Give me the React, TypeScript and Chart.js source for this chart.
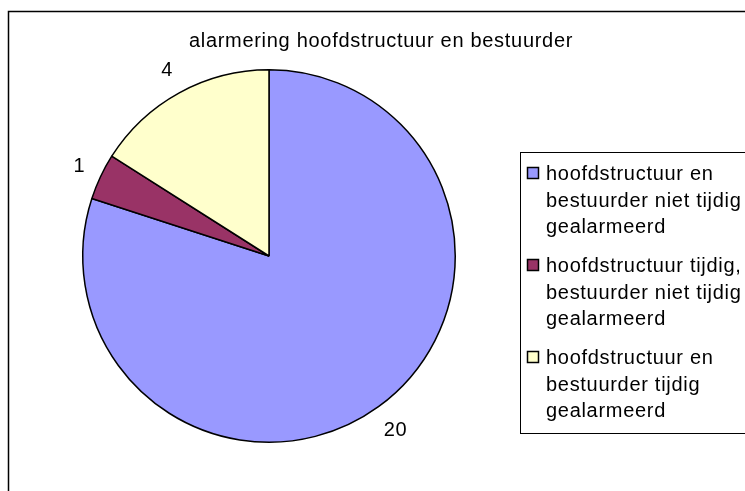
import React, { useEffect, useRef } from "react";
import { Chart, registerables } from "chart.js";

Chart.register(...registerables);

const chartTitle = "alarmering hoofdstructuur en bestuurder";
const categories: string[][] = [
  ["hoofdstructuur en", "bestuurder niet tijdig", "gealarmeerd"],
  ["hoofdstructuur tijdig,", "bestuurder niet tijdig", "gealarmeerd"],
  ["hoofdstructuur en", "bestuurder tijdig", "gealarmeerd"],
];
const values = [20, 1, 4];
const sliceColors = ["#9999FF", "#993366", "#FFFFCC"];

const FONT = "'Liberation Sans', Arial, sans-serif";

const decorPlugin = {
  id: "decor",
  afterDraw(chart: any) {
    const ctx = chart.ctx as CanvasRenderingContext2D;
    ctx.save();
    // outer frame (extends past the window)
    ctx.strokeStyle = "#000";
    ctx.lineWidth = 1.5;
    ctx.strokeRect(8.5, 11.5, 800, 800);

    // title
    ctx.fillStyle = "#000";
    (ctx as any).letterSpacing = "0.7px";
    ctx.font = `20px ${FONT}`;
    ctx.textAlign = "center";
    ctx.textBaseline = "alphabetic";
    ctx.fillText(chartTitle, 381, 47);

    // data labels
    const meta = chart.getDatasetMeta(0);
    ctx.font = `20px ${FONT}`;
    (ctx as any).letterSpacing = "0.5px";
    ctx.textBaseline = "middle";
    meta.data.forEach((arc: any, i: number) => {
      const { x, y, startAngle, endAngle, outerRadius } = arc.getProps(
        ["x", "y", "startAngle", "endAngle", "outerRadius"],
        true
      );
      const mid = (startAngle + endAngle) / 2;
      const dx = Math.cos(mid);
      const dy = Math.sin(mid);
      const txt = String(chart.data.datasets[0].data[i]);
      const w = ctx.measureText(txt).width / 2;
      const h = 10;
      const d = outerRadius + 14 + Math.abs(dx) * w + Math.abs(dy) * h;
      ctx.fillText(txt, x + dx * d, y + dy * d);
    });

    // legend
    ctx.lineWidth = 1;
    ctx.strokeStyle = "#000";
    ctx.strokeRect(520.5, 152.5, 300, 281);
    ctx.font = `20px ${FONT}`;
    (ctx as any).letterSpacing = "0.7px";
    ctx.textAlign = "left";
    ctx.textBaseline = "alphabetic";
    const labels = chart.data.labels as string[][];
    const firstCenter = 173;
    const groupPitch = 92;
    const lineGap = 26.5;
    labels.forEach((lines, i) => {
      const cy = firstCenter + i * groupPitch;
      ctx.fillStyle = sliceColors[i];
      ctx.fillRect(527.5, cy - 5.5, 11, 11);
      ctx.lineWidth = 1.5;
      ctx.strokeRect(527.5, cy - 5.5, 11, 11);
      ctx.fillStyle = "#000";
      lines.forEach((line, j) => {
        ctx.fillText(line, 546, cy + 7 + j * lineGap);
      });
    });
    ctx.restore();
  },
};

export default function App() {
  const ref = useRef<HTMLCanvasElement | null>(null);
  useEffect(() => {
    if (!ref.current) return;
    const chart = new Chart(ref.current, {
      type: "pie",
      data: {
        labels: categories,
        datasets: [
          {
            data: values,
            backgroundColor: sliceColors,
            borderColor: "#000",
            borderWidth: 1.5,
          },
        ],
      },
      options: {
        responsive: false,
        animation: false,
        devicePixelRatio: 1,
        layout: { padding: { left: 82, right: 289, top: 69, bottom: 48 } },
        plugins: {
          legend: { display: false },
          title: { display: false },
          tooltip: { enabled: false },
        },
      },
      plugins: [decorPlugin],
    });
    return () => chart.destroy();
  }, []);
  return (
    <div
      style={{
        position: "absolute",
        left: 0,
        top: 0,
        width: 745,
        height: 491,
        overflow: "hidden",
        background: "#fff",
      }}
    >
      <canvas ref={ref} width={745} height={491} style={{ display: "block" }} />
    </div>
  );
}
